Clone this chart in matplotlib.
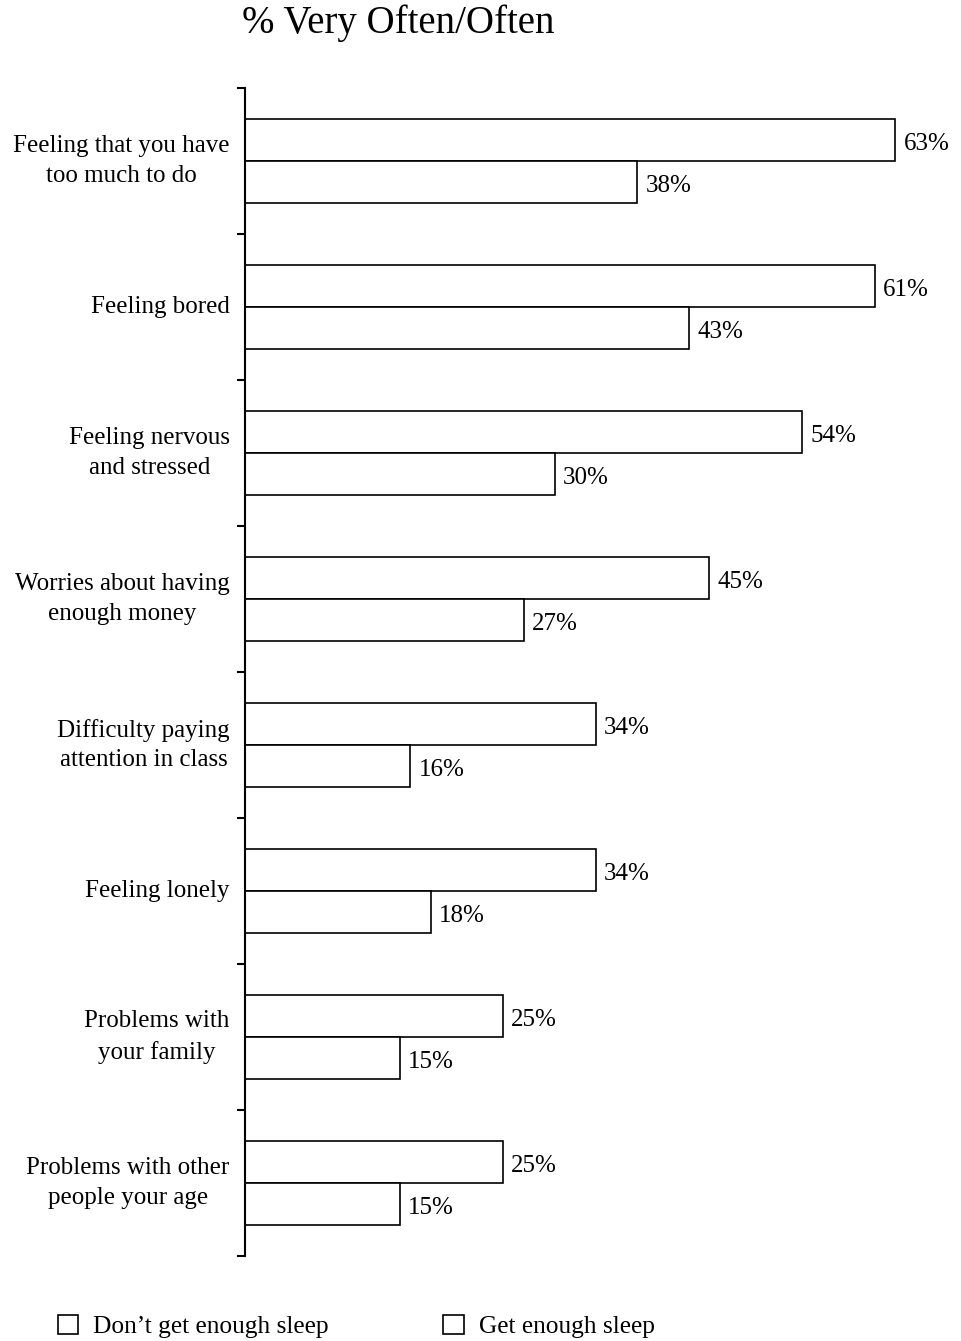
import matplotlib.pyplot as plt
from matplotlib.patches import Patch
import numpy as np

plt.rcParams['font.family'] = ['Liberation Serif', 'DejaVu Serif']

# data
categories = ['Feeling that you have\ntoo much to do', 'Feeling bored',
              'Feeling nervous\nand stressed', 'Worries about having\nenough money',
              'Difficulty paying\nattention in class', 'Feeling lonely',
              'Problems with\nyour family', 'Problems with other\npeople your age']
not_enough = [63, 61, 54, 45, 34, 34, 25, 25]
enough = [38, 43, 30, 27, 16, 18, 15, 15]
series_names = ['Don\u2019t get enough sleep', 'Get enough sleep']

fig = plt.figure(figsize=(9.61, 13.41), dpi=100)
ax = fig.add_axes([245 / 961, 1 - 1256 / 1341, 1 - 245 / 961, (1256 - 88) / 1341])

y = np.arange(len(categories))
h = 0.285
b1 = ax.barh(y - h / 2, not_enough, height=h, color='white', edgecolor='black', linewidth=1.2)
b2 = ax.barh(y + h / 2, enough, height=h, color='white', edgecolor='black', linewidth=1.2)

for bars, vals in [(b1, not_enough), (b2, enough)]:
    for bar, v in zip(bars, vals):
        ax.annotate(f'{v}%', (bar.get_width(), bar.get_y() + bar.get_height() / 2),
                    xytext=(6, -3), textcoords='offset points', va='center', ha='left',
                    fontsize=18)

for yi, cat in zip(y, categories):
    ax.annotate(cat, (0, yi), xytext=(-11, 0), textcoords='offset points',
                ha='right', va='center', fontsize=18, multialignment='center',
                linespacing=1.45, annotation_clip=False)

ax.set_xlim(0, (961 - 245) / 10.32)
ax.set_ylim(len(categories) - 0.5, -0.5)
ax.set_yticks(np.arange(-0.5, len(categories)))
ax.set_yticklabels([])
ax.tick_params(axis='y', direction='out', length=6, width=1.5)
ax.set_xticks([])
for s in ['top', 'right', 'bottom']:
    ax.spines[s].set_visible(False)
ax.spines['left'].set_linewidth(1.5)

fig.text(398 / 961, 1 - 23 / 1341, '% Very Often/Often', ha='center', va='center', fontsize=28)

handles = [Patch(facecolor='white', edgecolor='black', linewidth=1.2) for _ in series_names]
fig.legend(handles, series_names, loc='lower left', bbox_to_anchor=(35 / 961, -0.015),
           ncol=2, frameon=False, fontsize=18.3, handlelength=0.8, handleheight=0.8,
           handletextpad=0.6, columnspacing=4.5)

fig.savefig('out.png', dpi=100)
